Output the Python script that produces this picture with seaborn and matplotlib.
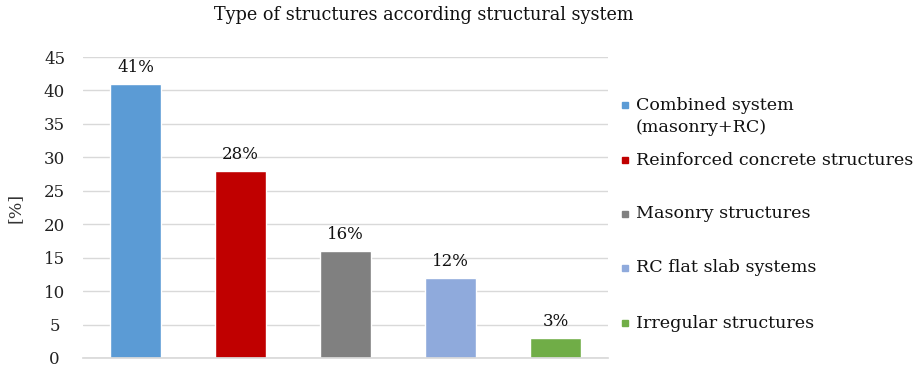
import matplotlib
matplotlib.use("Agg")
import matplotlib.pyplot as plt
import seaborn as sns
import pandas as pd
from matplotlib.lines import Line2D

categories = ["Combined system\n(masonry+RC)", "Reinforced concrete structures",
              "Masonry structures", "RC flat slab systems", "Irregular structures"]
values = [41, 28, 16, 12, 3]
labels = ["41%", "28%", "16%", "12%", "3%"]
colors = ["#5B9BD5", "#C00000", "#808080", "#8FAADC", "#70AD47"]
yticks = [0, 5, 10, 15, 20, 25, 30, 35, 40, 45]

# legend layout (pixel rows of the first text line of each entry)
legend_rows = [105, 160, 214, 268, 323]

sns.set_theme(style="white")
plt.rcParams['font.family'] = ['DejaVu Serif']

W, H = 921, 366
df = pd.DataFrame({"cat": categories, "val": values})
fig = plt.figure(figsize=(W/100, H/100), dpi=100)
ax = fig.add_axes([83/W, 1-358/H, 525/W, 301/H])
sns.barplot(data=df, x="cat", y="val", hue="cat", palette=colors, width=0.48,
            legend=False, ax=ax, saturation=1)
ax.set_ylim(0, 45)
ax.set_xlim(-0.5, 4.5)
ax.set_yticks(yticks)
ax.set_yticklabels([str(t) for t in yticks], fontsize=12, color="#222222")
for t in ax.get_yticklabels():
    t.set_horizontalalignment("center")
ax.set_xticks([])
ax.set_xlabel("")
ax.set_ylabel("[%]", fontsize=12.5, color="#333333")
ax.yaxis.set_label_coords(-59/525, 0.5)
ax.yaxis.grid(True, color="#D9D9D9", linewidth=1)
ax.set_axisbelow(True)
for s in ["top", "right", "left"]:
    ax.spines[s].set_visible(False)
ax.spines["bottom"].set_color("#D9D9D9")
ax.tick_params(axis="y", length=0, pad=20.5)
for i, (v, lab) in enumerate(zip(values, labels)):
    ax.text(i, v + 1.2, lab, ha="center", va="bottom", fontsize=12, color="#111111")

fig.text(424/W, 1-15/H, "Type of structures according structural system",
         ha="center", va="center", fontsize=12.7, color="#111111")

# legend entries
for cat, c, row in zip(categories, colors, legend_rows):
    fig.add_artist(Line2D([625/W], [1-row/H], marker="s", linestyle="",
                          markersize=4.5, markerfacecolor=c, markeredgecolor=c,
                          transform=fig.transFigure))
    for k, line in enumerate(cat.split("\n")):
        fig.text(636/W, 1-(row + 22*k)/H, line, ha="left", va="center",
                 fontsize=12.6, color="#111111")

fig.savefig("out.png", dpi=100)
